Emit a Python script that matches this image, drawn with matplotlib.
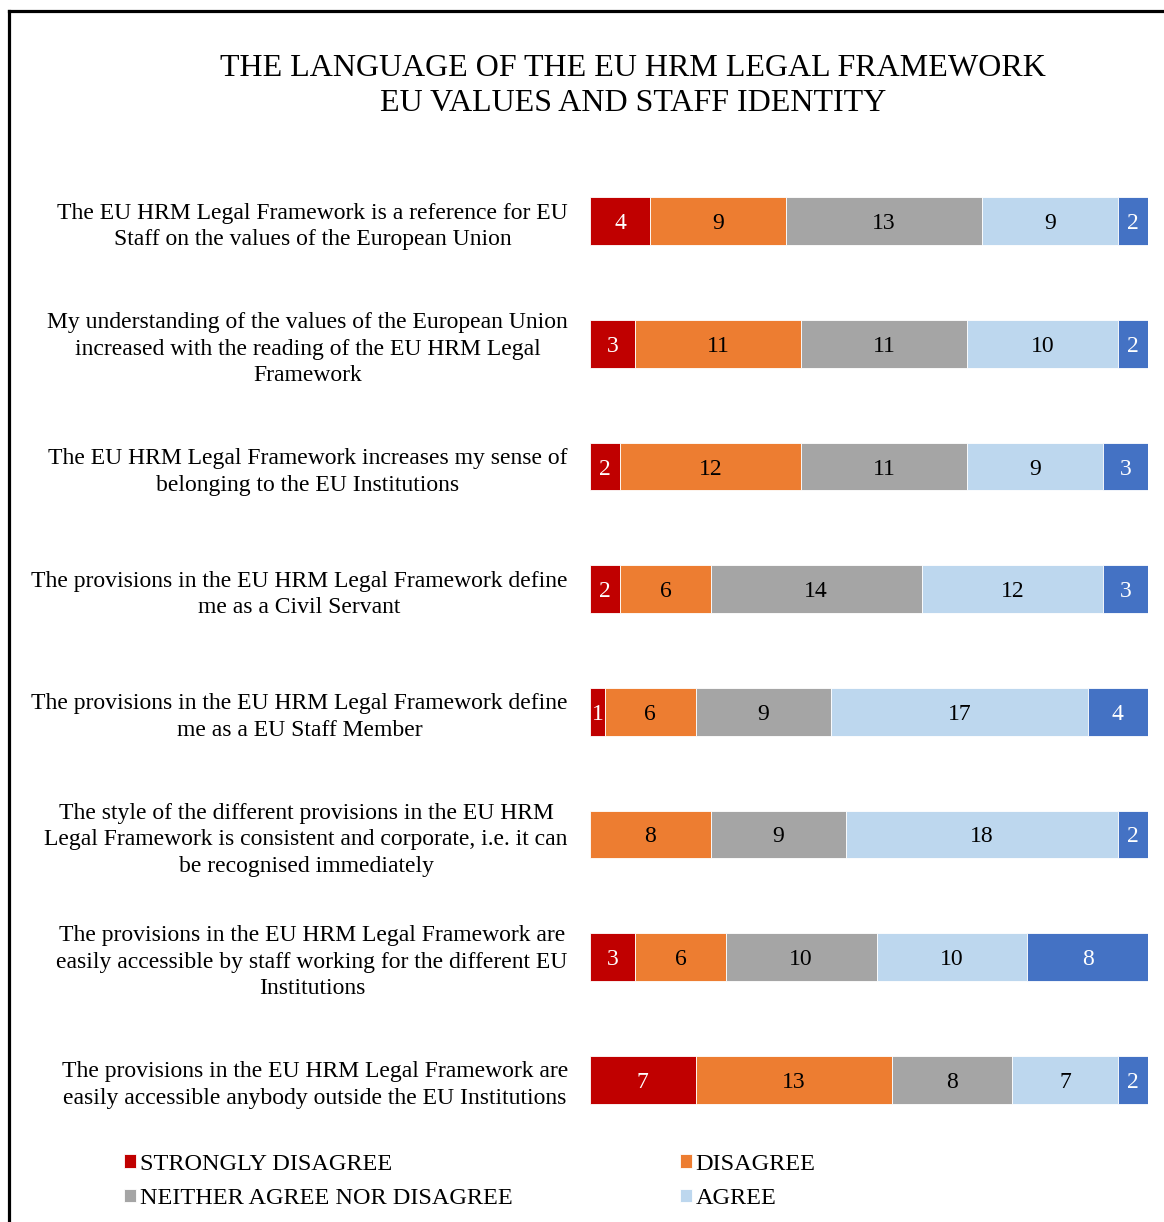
import matplotlib.pyplot as plt
from matplotlib.lines import Line2D
import numpy as np

plt.rcParams['font.family'] = ['Liberation Serif', 'DejaVu Serif']

questions = [
    "The EU HRM Legal Framework is a reference for EU\nStaff on the values of the European Union",
    "My understanding of the values of the European Union\nincreased with the reading of the EU HRM Legal\nFramework",
    "The EU HRM Legal Framework increases my sense of\nbelonging to the EU Institutions",
    "The provisions in the EU HRM Legal Framework define\nme as a Civil Servant",
    "The provisions in the EU HRM Legal Framework define\nme as a EU Staff Member",
    "The style of the different provisions in the EU HRM\nLegal Framework is consistent and corporate, i.e. it can\nbe recognised immediately",
    "The provisions in the EU HRM Legal Framework are\neasily accessible by staff working for the different EU\nInstitutions",
    "The provisions in the EU HRM Legal Framework are\neasily accessible anybody outside the EU Institutions",
]
strongly_disagree = [4, 3, 2, 2, 1, 0, 3, 7]
disagree = [9, 11, 12, 6, 6, 8, 6, 13]
neither = [13, 11, 11, 14, 9, 9, 10, 8]
agree = [9, 10, 9, 12, 17, 18, 10, 7]
strongly_agree = [2, 2, 3, 3, 4, 2, 8, 2]

series = [
    ("STRONGLY DISAGREE", strongly_disagree, "#C00000", "white"),
    ("DISAGREE", disagree, "#ED7D31", "black"),
    ("NEITHER AGREE NOR DISAGREE", neither, "#A5A5A5", "black"),
    ("AGREE", agree, "#BDD7EE", "black"),
    ("STRONGLY AGREE", strongly_agree, "#4472C4", "white"),
]

W, H = 1164, 1222
fig = plt.figure(figsize=(W / 100, H / 100), dpi=100)
ax = fig.add_axes([590 / W, 81 / H, 558 / W, 981 / H])

y = np.arange(len(questions))
left = np.zeros(len(questions))
handles = []
for name, vals, col, tcol in series:
    vals = np.array(vals, dtype=float)
    bars = ax.barh(y, vals, left=left, height=0.39, color=col,
                   edgecolor='white', linewidth=0.6, label=name)
    for yi, v, l in zip(y, vals, left):
        if v > 0:
            ax.text(l + v / 2, yi + 0.02, f"{int(v)}", ha='center', va='center',
                    fontsize=17, color=tcol)
    left += vals
    handles.append(bars)

ax.set_xlim(0, left.max())
ax.set_ylim(len(questions) - 0.5, -0.5)
ax.set_yticks(y)
ax.set_yticklabels(questions, fontsize=17, ha='right', multialignment='center',
                   linespacing=1.35)
ax.tick_params(axis='y', length=0, pad=16)
ax.set_xticks([])
for s in ax.spines.values():
    s.set_visible(False)

fig.text(633 / W, 1 - 86 / H, "THE LANGUAGE OF THE EU HRM LEGAL FRAMEWORK\nEU VALUES AND STAFF IDENTITY",
         ha='center', va='center', fontsize=23, linespacing=1.3)

# legend, filled row by row (the fifth entry is cropped off in the original)
order = [0, 2, 1, 3]
leg = fig.legend([handles[i] for i in order], [series[i][0] for i in order], ncol=2,
                 loc='upper left', bbox_to_anchor=(114 / W, 1 - 1144 / H),
                 frameon=False, fontsize=17.5, handlelength=0.5, handleheight=0.5,
                 handletextpad=0.15, columnspacing=6.9, labelspacing=0.55,
                 borderaxespad=0)

# frame lines at left and top edge
fig.add_artist(Line2D([9 / W, 9 / W], [0, 1 - 11 / H], color='black', lw=2.3,
                      transform=fig.transFigure))
fig.add_artist(Line2D([9 / W, 1], [1 - 11 / H, 1 - 11 / H], color='black', lw=2.3,
                      transform=fig.transFigure))

fig.savefig("out.png", dpi=100)
